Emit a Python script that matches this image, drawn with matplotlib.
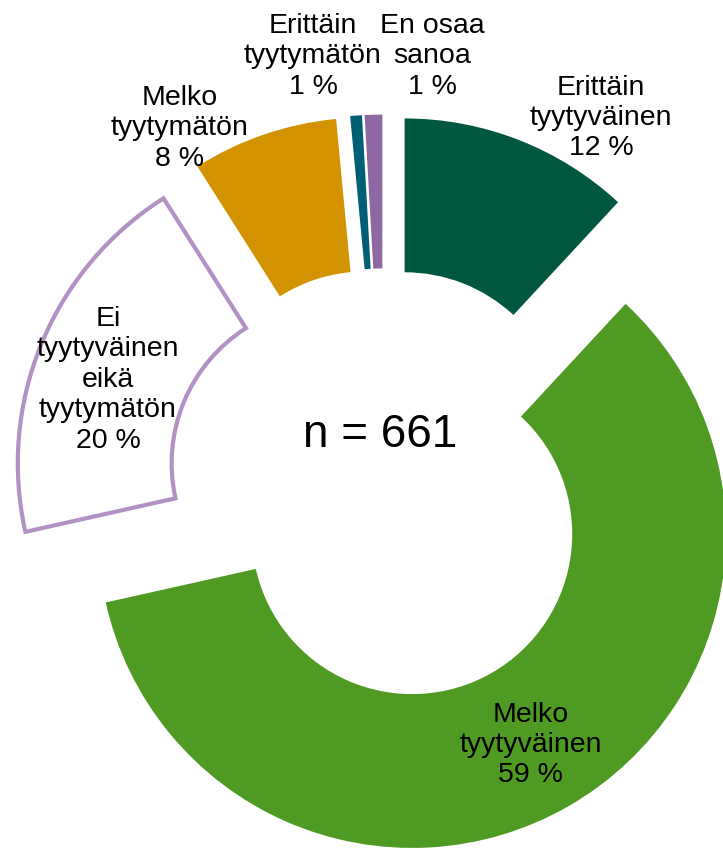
import matplotlib.pyplot as plt

plt.rcParams['font.family'] = ['Liberation Sans', 'DejaVu Sans']

# slices clockwise from 12 o'clock
categories = ['Erittäin\ntyytyväinen', 'Melko\ntyytyväinen', 'Ei\ntyytyväinen\neikä\ntyytymätön',
              'Melko\ntyytymätön', 'Erittäin\ntyytymätön', 'En osaa\nsanoa']
shares = [11.9, 59.6, 19.5, 7.5, 0.6, 0.9]   # slice sizes
shown_pct = [12, 59, 20, 8, 1, 1]              # percentages printed in the labels
n_total = 661

colors = ['#00573F', '#4E9A23', '#FFFFFF', '#D39200', '#005F75', '#8E68A2']
label_pos = [(0.691, 1.172), (0.468, -0.825), (-0.879, 0.338),
             (-0.650, 1.140), (-0.226, 1.369), (0.153, 1.369)]

fig = plt.figure(figsize=(7.23, 8.53), dpi=100)
ax = fig.add_axes([0, 0, 1, 1])

wedges, _ = ax.pie(shares, colors=colors, startangle=90, counterclock=False,
                   explode=[0.18] * len(shares), radius=1,
                   wedgeprops=dict(width=0.49, linewidth=0))
# the neutral slice is drawn hollow with a lilac outline
wedges[2].set_edgecolor('#B292C5')
wedges[2].set_linewidth(3)

for name, p, (x, y) in zip(categories, shown_pct, label_pos):
    ax.text(x, y, '%s\n%d %%' % (name, p), ha='center', va='center',
            fontsize=20.5, linespacing=1.22, color='black')

ax.text(-0.013, 0.162, 'n = %d' % n_total, ha='center', va='center', fontsize=33)

ax.set_xlim(-1.223, 1.080)
ax.set_ylim(-1.169, 1.548)
ax.set_aspect('equal')
ax.axis('off')
fig.savefig('out.png', dpi=100)
